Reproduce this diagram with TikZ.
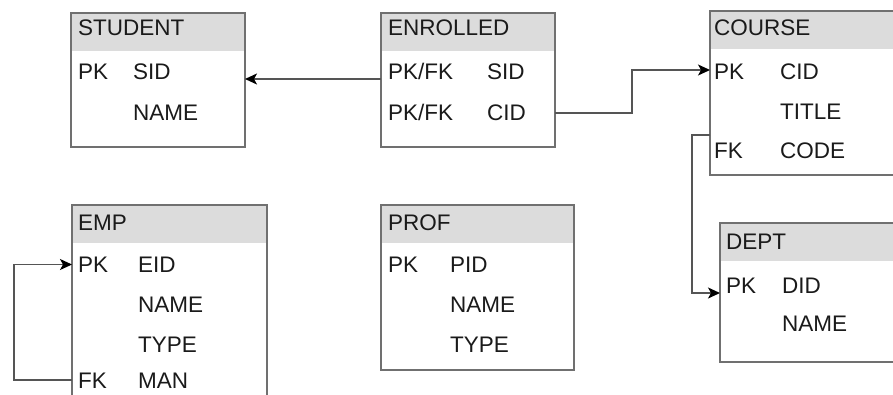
\documentclass[tikz,border=0pt]{standalone}
\usepackage{fontspec}
\setmainfont{Liberation Sans}
\usetikzlibrary{arrows.meta}
\definecolor{hdrgray}{HTML}{DCDCDC}
\definecolor{boxline}{HTML}{707070}
\definecolor{txt}{HTML}{1A1A1A}
\definecolor{connline}{HTML}{555555}
\begin{document}
\begin{tikzpicture}[x=1pt,y=-1pt,
  tbl/.style={draw=boxline,line width=1.4pt,rectangle,inner sep=0pt,outer sep=0pt,anchor=north west,
    path picture={\fill[hdrgray] (path picture bounding box.north west) rectangle ([yshift=-38pt]path picture bounding box.north east);}},
  lbl/.style={anchor=west,inner sep=0pt,text height=16pt,text depth=0pt,text=txt,font=\fontsize{22.5}{26}\selectfont},
  conn/.style={draw=connline,line width=1.4pt,-{Stealth[length=12pt,width=11pt,inset=3pt,fill=black,color=black]}}
]
\useasboundingbox (0,0) rectangle (893,394);
\clip (0,0) rectangle (893,394);
\fill[white] (0,0) rectangle (893,394);

% STUDENT
\node[tbl,minimum width=174pt,minimum height=134pt] (student) at (71,13) {};
\node[lbl] (student-t) at (78,27) {STUDENT};
\node[lbl] (student-k1) at (78,71) {PK};
\node[lbl] (student-f1) at (133,71) {SID};
\node[lbl] (student-f2) at (133,112) {NAME};

% ENROLLED
\node[tbl,minimum width=174pt,minimum height=134pt] (enrolled) at (381,13) {};
\node[lbl] (enrolled-t) at (388,27) {ENROLLED};
\node[lbl] (enrolled-k1) at (388,71) {PK/FK};
\node[lbl] (enrolled-f1) at (487,71) {SID};
\node[lbl] (enrolled-k2) at (388,112) {PK/FK};
\node[lbl] (enrolled-f2) at (487,112) {CID};

% COURSE
\node[tbl,minimum width=200pt,minimum height=164pt] (course) at (710,11) {};
\node[lbl] (course-t) at (714,27) {COURSE};
\node[lbl] (course-k1) at (714,71) {PK};
\node[lbl] (course-f1) at (780,71) {CID};
\node[lbl] (course-f2) at (780,111) {TITLE};
\node[lbl] (course-k3) at (714,150) {FK};
\node[lbl] (course-f3) at (780,150) {CODE};

% DEPT
\node[tbl,minimum width=200pt,minimum height=139pt] (dept) at (720,223) {};
\node[lbl] (dept-t) at (726,241) {DEPT};
\node[lbl] (dept-k1) at (726,285) {PK};
\node[lbl] (dept-f1) at (782,285) {DID};
\node[lbl] (dept-f2) at (782,323) {NAME};

% EMP
\node[tbl,minimum width=195pt,minimum height=230pt] (emp) at (72,205) {};
\node[lbl] (emp-t) at (78,222) {EMP};
\node[lbl] (emp-k1) at (78,264.5) {PK};
\node[lbl] (emp-f1) at (138,264.5) {EID};
\node[lbl] (emp-f2) at (138,304.5) {NAME};
\node[lbl] (emp-f3) at (138,344) {TYPE};
\node[lbl] (emp-k4) at (78,380) {FK};
\node[lbl] (emp-f4) at (138,380) {MAN};

% PROF
\node[tbl,minimum width=193pt,minimum height=165pt] (prof) at (381,205) {};
\node[lbl] (prof-t) at (388,222) {PROF};
\node[lbl] (prof-k1) at (388,264.5) {PK};
\node[lbl] (prof-f1) at (450,264.5) {PID};
\node[lbl] (prof-f2) at (450,304.5) {NAME};
\node[lbl] (prof-f3) at (450,344) {TYPE};

% connectors
\draw[conn] ([yshift=-66pt]enrolled.north west) -- ([yshift=-66pt]student.north east);
\draw[conn] ([yshift=-100pt]enrolled.north east) -- ++(77,0) |- ([yshift=-59pt]course.north west);
\draw[conn] ([yshift=-124pt]course.north west) -- ++(-18,0) |- ([yshift=-70pt]dept.north west);
\draw[conn] ([yshift=-175pt]emp.north west) -- ++(-58,0) |- ([yshift=-59.5pt]emp.north west);
\end{tikzpicture}
\end{document}
